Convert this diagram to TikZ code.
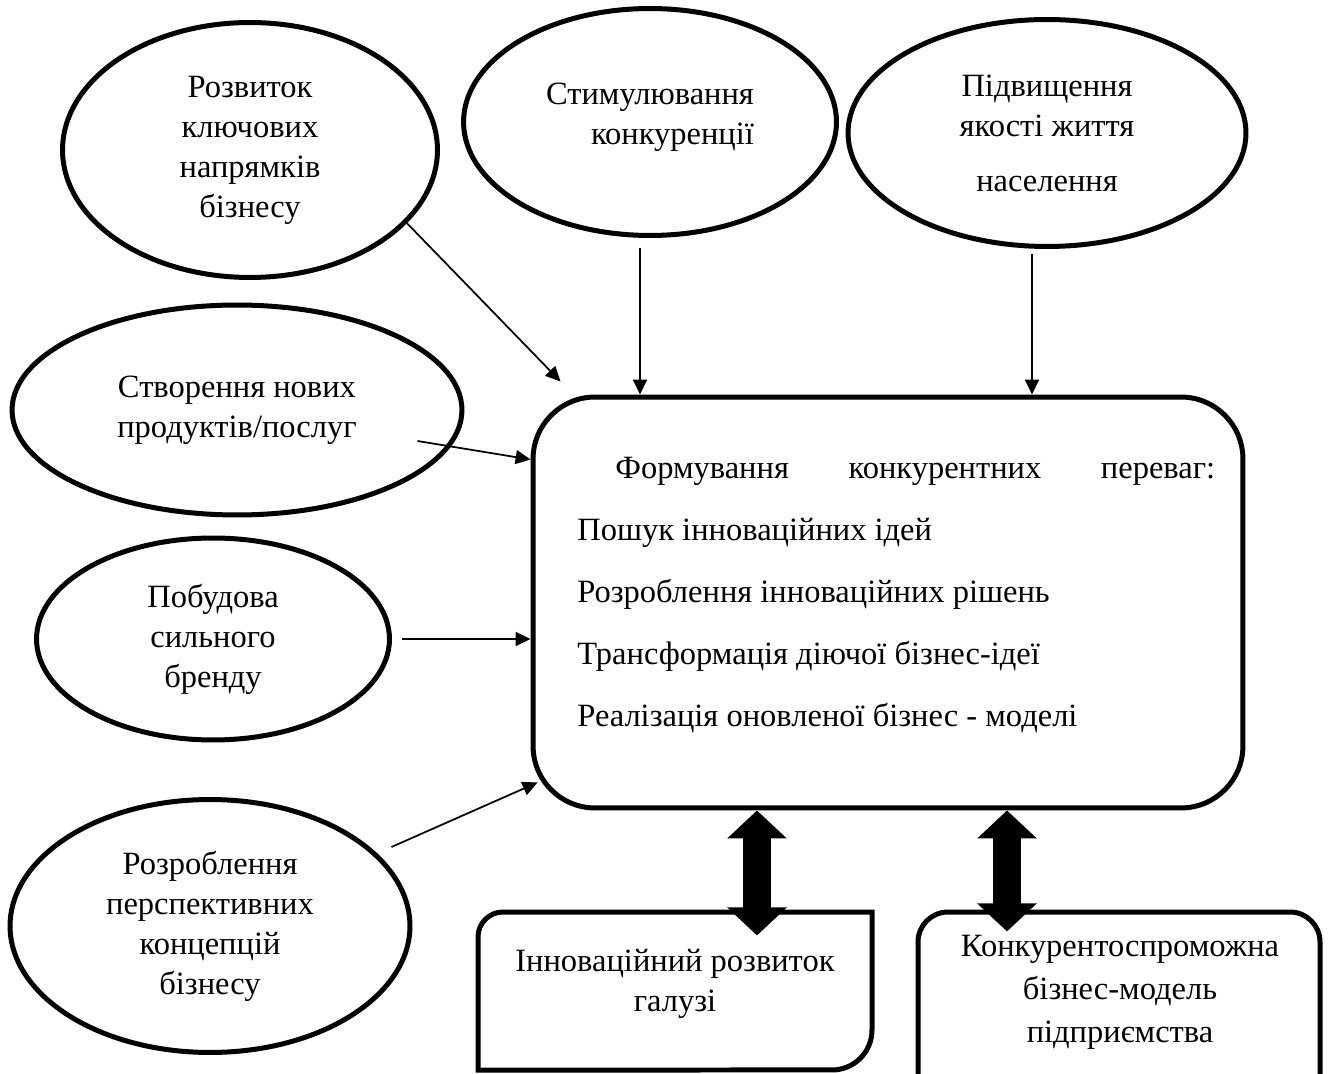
\documentclass[tikz,border=0pt]{standalone}
\usepackage{fontspec}
\setmainfont{Liberation Serif}
\usetikzlibrary{arrows.meta}
\usetikzlibrary{calc}
\usetikzlibrary{shapes.geometric}
\tikzset{>=latex}
\tikzstyle{txt}=[font=\fontsize{18.5}{22.8}\selectfont]
\tikzstyle{oval}=[draw,ellipse,line width=0.1cm,align=center,inner sep=0pt,txt]
\tikzstyle{frame}=[line width=0.1cm]
\tikzstyle{thinarrow}=[-{Triangle[length=0.3cm,width=0.28cm]},line width=0.035cm]
\tikzstyle{dblarrow}=[{Triangle[width=1.16cm,length=0.56cm]}-{Triangle[width=1.16cm,length=0.56cm]},line width=0.56cm]

\begin{document}
\begin{tikzpicture}[x=0.02cm,y=0.02cm]
    \useasboundingbox (0,0) rectangle (1329,1073);

    % ovals
    \node[oval,minimum width=7.5cm,minimum height=5.1cm] (dev) at (250,923) {Розвиток\\ключових\\напрямків\\бізнесу};
    \node[oval,align=right,minimum width=7.46cm,minimum height=4.54cm] (stim) at (650,951) {Стимулювання\\конкуренції\\[-0.48cm]};
    \node[oval,minimum width=7.96cm,minimum height=4.54cm] (qual) at (1047,940) {Підвищення\\якості життя\\[0.3cm]населення};
    \node[oval,minimum width=9cm,minimum height=4.2cm] (create) at (237,663) {Створення нових\\продуктів/послуг};
    \node[oval,minimum width=7.06cm,minimum height=4.04cm] (brand) at (213,434) {Побудова\\сильного\\бренду};
    \node[oval,minimum width=8cm,minimum height=5.06cm] (concepts) at (210,147) {Розроблення\\перспективних\\концепцій\\бізнесу};

    % central box
    \node[draw,frame,rounded corners=1.24cm,minimum width=14.2cm,minimum height=8.22cm] (main) at (888,470.5) {};
    \node[anchor=west,align=left,inner sep=0pt,font=\fontsize{18.5}{35.3}\selectfont] (maintext) at (577,478)
      {\hspace*{0.76cm}\makebox[12cm][s]{Формування конкурентних переваг:}\\Пошук інноваційних ідей\\Розроблення інноваційних рішень\\Трансформація діючої бізнес-ідеї\\Реалізація оновленої бізнес - моделі};

    % bottom boxes
    \draw[frame] (478,3) -- (478,136) arc[start angle=180,end angle=90,radius=0.5cm] -- (872,161)
      -- (872,43) arc[start angle=0,end angle=-90,radius=0.8cm] -- cycle;
    \node[txt,align=center] (inno) at (675,89) {Інноваційний розвиток\\галузі};
    \draw[frame] (918,-5) -- (918,131) arc[start angle=180,end angle=90,radius=0.6cm] -- (1290,161)
      arc[start angle=90,end angle=0,radius=0.6cm] -- (1320,-5);
    \node[txt,align=center,font=\fontsize{18.5}{24.5}\selectfont] (comp) at (1120,81) {Конкурентоспроможна\\бізнес-модель\\підприємства};

    % arrows into the box
    \draw[thinarrow] (dev.-25) -- ($(main.north west)+(30,13)$);
    \coordinate (s2) at ($(stim.south)+(-10,-10)$);
    \draw[thinarrow] (s2) -- (s2 |- main.north);
    \coordinate (s3) at ($(qual.south)+(-15,-5)$);
    \draw[thinarrow] (s3) -- (s3 |- main.north);
    \draw[thinarrow] ($(create.east)+(-47,-31)$) -- ($(main.north west)+(0,-65)$);
    \draw[thinarrow] ($(brand.east)+(10,0)$) -- (brand.east -| main.west);
    \draw[thinarrow] ($(concepts.east)+(-21,79)$) -- ($(main.south west)+(7,28)$);

    % two-way arrows
    \coordinate (d1) at ($(main.south)+(-131,0)$);
    \draw[dblarrow] (d1) -- ++(0,-125);
    \coordinate (d2) at ($(main.south)+(119,0)$);
    \draw[dblarrow] (d2) -- ++(0,-121);
\end{tikzpicture}
\end{document}
